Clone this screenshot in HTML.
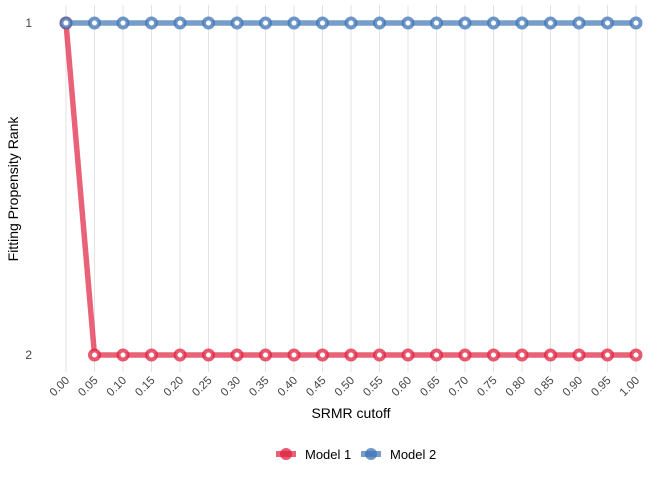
<!DOCTYPE html>
<html><head><meta charset="utf-8"><style>
body{margin:0;background:#fff}
svg text{font-family:"Liberation Sans",Arial,sans-serif}
</style></head><body>
<svg id="chart" width="672" height="480" xmlns="http://www.w3.org/2000/svg">
<g id="grid"></g>
<g id="series"></g>
<g id="xticks"></g>
<g id="yticks"></g>
<text x="351" y="418" text-anchor="middle" font-size="14" fill="#000">SRMR cutoff</text>
<text transform="translate(18,189) rotate(-90)" text-anchor="middle" font-size="14" fill="#000">Fitting Propensity Rank</text>
<g>
<g>
<line x1="276" y1="454" x2="296" y2="454" stroke="#E0203E" stroke-opacity="0.7" stroke-width="6"/>
<circle cx="286" cy="454" r="6" fill="#E0203E" fill-opacity="0.75"/>
<text x="305" y="459" font-size="13">Model 1</text></g>
<g>
<line x1="361" y1="454" x2="381" y2="454" stroke="#3D74B5" stroke-opacity="0.7" stroke-width="6"/>
<circle cx="371" cy="454" r="6" fill="#3D74B5" fill-opacity="0.75"/>
<text x="390" y="459" font-size="13">Model 2</text></g>
</g>
</svg>
<script>
const cutoffs=[0,0.05,0.1,0.15,0.2,0.25,0.3,0.35,0.4,0.45,0.5,0.55,0.6,0.65,0.7,0.75,0.8,0.85,0.9,0.95,1.0];
const tickLabels=["0.00","0.05","0.10","0.15","0.20","0.25","0.30","0.35","0.40","0.45","0.50","0.55","0.60","0.65","0.70","0.75","0.80","0.85","0.90","0.95","1.00"];
const model1=[1,2,2,2,2,2,2,2,2,2,2,2,2,2,2,2,2,2,2,2,2];
const model2=[1,1,1,1,1,1,1,1,1,1,1,1,1,1,1,1,1,1,1,1,1];
const yTicks=[1,2];
const NS="http://www.w3.org/2000/svg";
const xs=v=>66+v*570;
const ys=r=>23+(r-1)*332;
function mk(t,a,p){const e=document.createElementNS(NS,t);for(const k in a)e.setAttribute(k,a[k]);p.appendChild(e);return e;}
const grid=document.getElementById('grid'),xt=document.getElementById('xticks'),yt=document.getElementById('yticks'),ser=document.getElementById('series');
cutoffs.forEach((c,i)=>{
 const l=mk('line',{x1:xs(c),x2:xs(c),y1:5,y2:372,stroke:'#e3e3e3','stroke-width':1},grid);
 
 
 const t=mk('text',{transform:`translate(${xs(c)+4},${381}) rotate(-45)`,'text-anchor':'end','font-size':11.5,fill:'#444'},xt);
 t.textContent=tickLabels[i];
 
 
});
yTicks.forEach(r=>{
 const t=mk('text',{x:32,y:ys(r)+4,'text-anchor':'end','font-size':12,fill:'#444'},yt);
 t.textContent=r;
 
 
});
[[model1,'#E0203E','model-1'],[model2,'#3D74B5','model-2']].forEach(([d,col,nm])=>{
 const g=mk('g',{},ser);
 
 
 const pl=mk('polyline',{points:d.map((v,i)=>xs(cutoffs[i])+','+ys(v)).join(' '),fill:'none',stroke:col,'stroke-opacity':0.7,'stroke-width':5.5},g);
 
 
 d.forEach((v,i)=>{
  const c=mk('circle',{cx:xs(cutoffs[i]),cy:ys(v),r:4.5,fill:'#fff',stroke:col,'stroke-opacity':0.75,'stroke-width':4},g);
  
  
 });
});
</script>
</body></html>
